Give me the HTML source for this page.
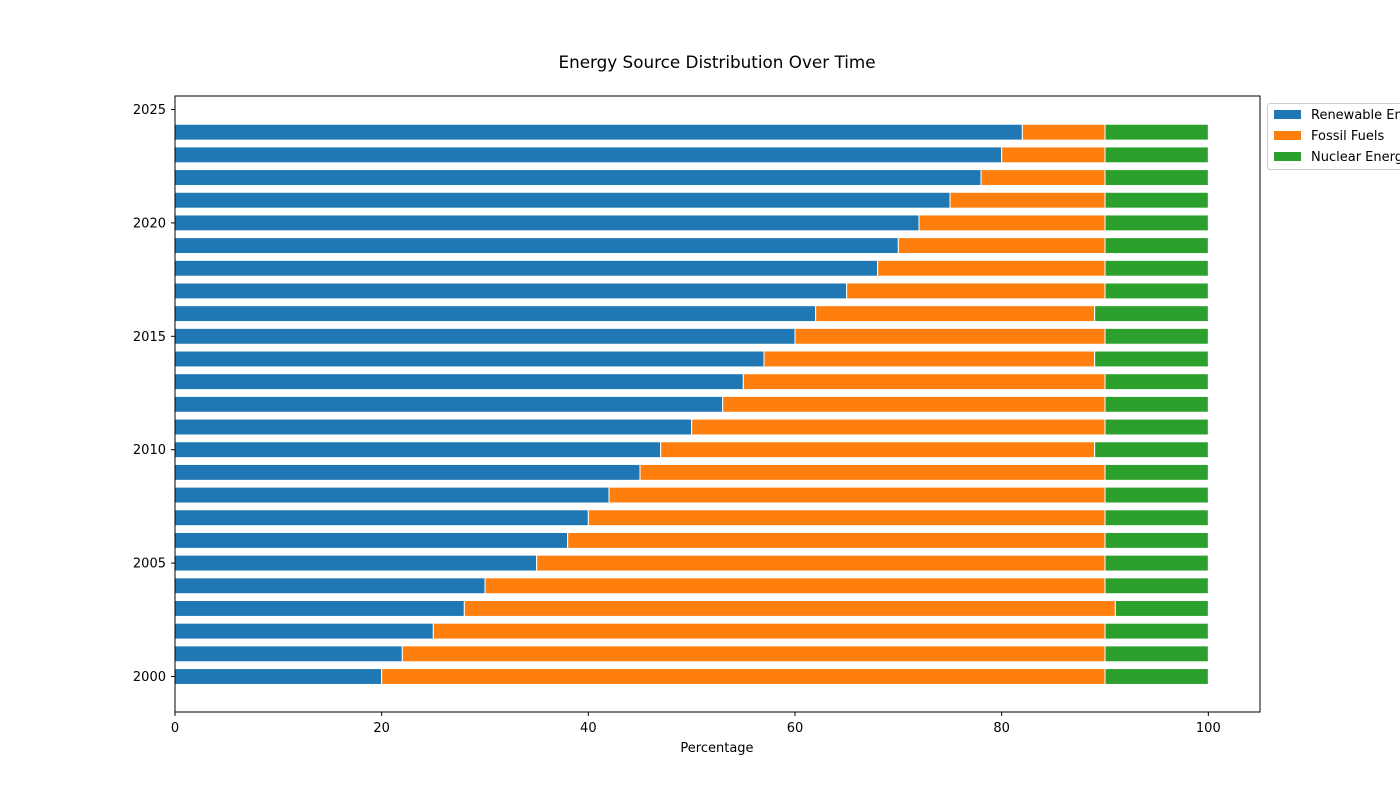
<!DOCTYPE html>
<html><head><meta charset="utf-8"><style>
html,body{margin:0;padding:0;background:#fff;overflow:hidden}
svg{display:block;font-family:"DejaVu Sans","Liberation Sans",sans-serif}
</style></head><body>
<svg id="chart" width="1400" height="800" xmlns="http://www.w3.org/2000/svg">
<text x="717" y="68" text-anchor="middle" font-size="16.8">Energy Source Distribution Over Time</text>
<g id="bars"></g>
<rect x="175" y="96" width="1085" height="616" fill="none" stroke="#000" stroke-width="1"/>
<g id="axes"></g>
<text x="717" y="752" text-anchor="middle" font-size="13">Percentage</text>
<g>
<rect x="1267.5" y="103.5" width="200" height="66" rx="3" fill="#fff" stroke="#ccc"/>
<rect x="1274" y="110" width="27" height="9" fill="#1f77b4"/>
<text x="1311" y="119" font-size="13">Renewable Energy</text>
<rect x="1274" y="131" width="27" height="9" fill="#ff7f0e"/>
<text x="1311" y="140" font-size="13">Fossil Fuels</text>
<rect x="1274" y="152" width="27" height="9" fill="#2ca02c"/>
<text x="1311" y="161" font-size="13">Nuclear Energy</text>
</g>
</svg>
<script>
const years=[2000,2001,2002,2003,2004,2005,2006,2007,2008,2009,2010,2011,2012,2013,2014,2015,2016,2017,2018,2019,2020,2021,2022,2023,2024];
const renewable=[20,22,25,28,30,35,38,40,42,45,47,50,53,55,57,60,62,65,68,70,72,75,78,80,82];
const fossil=[70,68,65,63,60,55,52,50,48,45,42,40,37,35,32,30,27,25,22,20,18,15,12,10,8];
const nuclear=[10,10,10,9,10,10,10,10,10,10,11,10,10,10,11,10,11,10,10,10,10,10,10,10,10];
const xTicks=[0,20,40,60,80,100];
const yTicks=[2000,2005,2010,2015,2020,2025];
const NS="http://www.w3.org/2000/svg";
const xs=v=>175+v*(1085/105);
const ys=y=>676.5-(y-2000)*(567/25);
const bh=15.9;
const bars=document.getElementById('bars');
const axes=document.getElementById('axes');
function rect(x0,x1,y,c,name){
 const r=document.createElementNS(NS,'rect');
 r.setAttribute('x',xs(x0));r.setAttribute('width',xs(x1)-xs(x0));
 r.setAttribute('y',ys(y)-bh/2);r.setAttribute('height',bh);
 r.setAttribute('fill',c);r.setAttribute('stroke','#fff');r.setAttribute('stroke-width','1');
 
 
 bars.appendChild(r);
}
years.forEach((y,i)=>{
 rect(0,renewable[i],y,'#1f77b4','bar-renewable-'+y);
 rect(renewable[i],renewable[i]+fossil[i],y,'#ff7f0e','bar-fossil-'+y);
 rect(renewable[i]+fossil[i],renewable[i]+fossil[i]+nuclear[i],y,'#2ca02c','bar-nuclear-'+y);
});
xTicks.forEach(t=>{
 const l=document.createElementNS(NS,'line');
 l.setAttribute('x1',xs(t));l.setAttribute('x2',xs(t));l.setAttribute('y1',712);l.setAttribute('y2',716);l.setAttribute('stroke','#000');
 
 
 axes.appendChild(l);
 const tx=document.createElementNS(NS,'text');
 tx.setAttribute('x',xs(t));tx.setAttribute('y',732);tx.setAttribute('text-anchor','middle');tx.setAttribute('font-size','13');
 tx.textContent=t;
 
 
 axes.appendChild(tx);
});
yTicks.forEach(t=>{
 const l=document.createElementNS(NS,'line');
 l.setAttribute('x1',171);l.setAttribute('x2',175);l.setAttribute('y1',ys(t));l.setAttribute('y2',ys(t));l.setAttribute('stroke','#000');
 
 
 axes.appendChild(l);
 const tx=document.createElementNS(NS,'text');
 tx.setAttribute('x',166);tx.setAttribute('y',ys(t)+4.5);tx.setAttribute('text-anchor','end');tx.setAttribute('font-size','13');
 tx.textContent=t;
 
 
 axes.appendChild(tx);
});
</script>
</body></html>
